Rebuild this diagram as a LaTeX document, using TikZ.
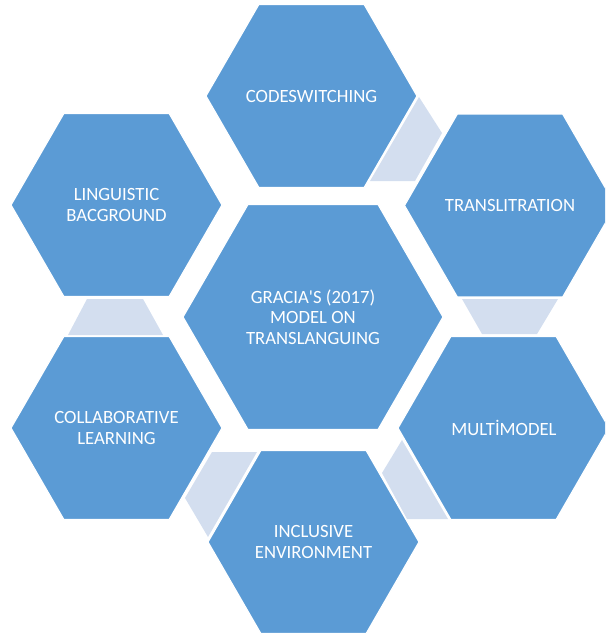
\documentclass[tikz,border=0pt]{standalone}
\usepackage{fontspec}
\setmainfont{Carlito}[Ligatures=TeXOff]
\definecolor{hexblue}{HTML}{5B9BD5}
\definecolor{linkblue}{HTML}{D3DEEF}
% regular hexagon with pointed left/right ends: centre (#1,#2), circumradius #3
\newcommand{\hexcell}[3]{%
  \path[hexcellstyle] (#1+#3,#2) -- ++(120:#3) -- ++(180:#3) -- ++(240:#3)
    -- ++(300:#3) -- ++(0:#3) -- cycle;}
\begin{document}
\begin{tikzpicture}[x=1pt,y=-1pt,
  hexcellstyle/.style={fill=hexblue, draw=white, line width=1.2pt, line join=miter},
  linkpiece/.style={fill=linkblue},
  hextext/.style={text=white, align=center, inner sep=0pt,
    font=\fontsize{18.7}{20.5}\selectfont}]
\useasboundingbox (0,0) rectangle (605,634);
\clip (0,0) rectangle (605,634);

% connecting trapezoids between neighbouring outer cells
\fill[linkpiece] (419,97) -- (442,133) -- (415,181) -- (370,181) -- cycle;
\fill[linkpiece] (462,299) -- (558,299) -- (537,334) -- (482,334) -- cycle;
\fill[linkpiece] (402,440) -- (448,519) -- (407,519) -- (382,473) -- cycle;
\fill[linkpiece] (212,452) -- (257,452) -- (208,537) -- (185,498) -- cycle;
\fill[linkpiece] (87,299) -- (143,299) -- (163,335) -- (68,335) -- cycle;

% cells
\hexcell{313}{317}{130}
\hexcell{311.5}{96}{105.5}
\hexcell{510}{205.5}{105.5}
\hexcell{503.5}{428}{105.5}
\hexcell{313.5}{542}{105.5}
\hexcell{116.5}{428}{105.5}
\hexcell{116.5}{205}{105.5}

% texts
\node[hextext] (hub)   at (313,317)   {GRACIA'S (2017)\\MODEL ON\\TRANSLANGUING};
\node[hextext] (code)  at (311.5,96)  {CODESWITCHING};
\node[hextext] (trans) at (510,205.5) {TRANSLITRATION};
\node[hextext] (multi) at (504,428)   {MULTİMODEL};
\node[hextext] (incl)  at (313.5,542) {INCLUSIVE\\ENVIRONMENT};
\node[hextext] (collab) at (116.5,428) {COLLABORATIVE\\LEARNING};
\node[hextext] (ling)  at (116.5,205) {LINGUISTIC\\BACGROUND};
\end{tikzpicture}
\end{document}
